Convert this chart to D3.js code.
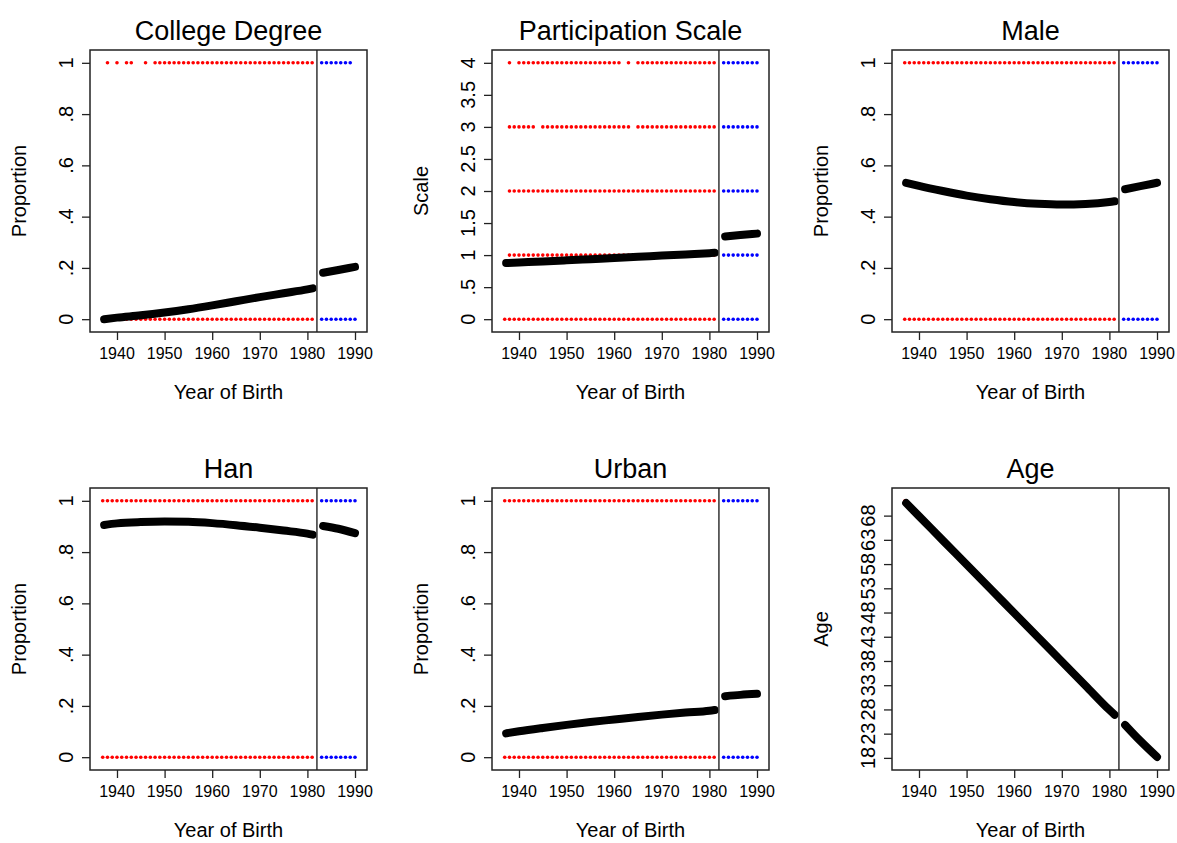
<!DOCTYPE html>
<html><head><meta charset="utf-8">
<script src="https://cdn.jsdelivr.net/npm/d3@7"></script>
<style>
body{margin:0;background:#fff}
text{font-family:"Liberation Sans",Arial,Helvetica,sans-serif;fill:#000}
</style>
</head><body>
<svg id="c" width="1177" height="843"></svg>
<script>
// ---------- data ----------
const redYears = [1937,1938,1939,1940,1941,1942,1943,1944,1945,1946,1947,1948,1949,1950,1951,1952,1953,1954,1955,1956,1957,1958,1959,1960,1961,1962,1963,1964,1965,1966,1967,1968,1969,1970,1971,1972,1973,1974,1975,1976,1977,1978,1979,1980,1981];
const redYears1938 = [1938,1939,1940,1941,1942,1943,1944,1945,1946,1947,1948,1949,1950,1951,1952,1953,1954,1955,1956,1957,1958,1959,1960,1961,1962,1963,1964,1965,1966,1967,1968,1969,1970,1971,1972,1973,1974,1975,1976,1977,1978,1979,1980,1981];
const blueYears = [1983,1984,1985,1986,1987,1988,1989,1990];
const blueYearsCollegeTop = [1983,1984,1985,1986,1987,1988,1989];
const collegeTopYears = [1938,1940,1942,1943,1946,1948,1949,1950,1951,1952,1953,1954,1955,1956,1957,1958,1959,1960,1961,1962,1963,1964,1965,1966,1967,1968,1969,1970,1971,1972,1973,1974,1975,1976,1977,1978,1979,1980,1981];
const partTopYears = [1938,1940,1941,1942,1943,1944,1945,1946,1947,1948,1949,1950,1951,1952,1953,1954,1955,1956,1957,1958,1959,1960,1961,1963,1965,1966,1967,1968,1969,1970,1971,1972,1973,1974,1975,1976,1977,1978,1979,1980,1981];
const partThreeYears = [1938,1939,1940,1941,1942,1943,1945,1946,1947,1948,1949,1950,1951,1952,1953,1954,1955,1956,1957,1958,1959,1960,1961,1962,1963,1965,1966,1967,1968,1969,1970,1971,1972,1973,1974,1975,1976,1977,1978,1979,1980,1981];
const redAges = [71,70,69,68,67,66,65,64,63,62,61,60,59,58,57,56,55,54,53,52,51,50,49,48,47,46,45,44,43,42,41,40,39,38,37,36,35,34,33,32,31,30,29,28,27];
const blueAges = [25,24,23,22,21,20,19,18];

const fitYearsLeft  = [1937.3,1940,1945,1950,1955,1960,1965,1970,1975,1980,1981.1];
const fitYearsRight = [1983.3,1986.5,1990];
const collegeFitLeft  = [0.0,0.006,0.015,0.026,0.039,0.054,0.070,0.086,0.101,0.116,0.120];
const collegeFitRight = [0.181,0.192,0.204];
const partFitLeft  = [0.875,0.884,0.901,0.918,0.936,0.954,0.973,0.992,1.011,1.030,1.035];
const partFitRight = [1.290,1.312,1.335];
const maleFitLeft  = [0.532,0.520,0.500,0.482,0.468,0.457,0.450,0.447,0.449,0.457,0.460];
const maleFitRight = [0.507,0.519,0.532];
const hanFitLeft  = [0.906,0.912,0.917,0.919,0.918,0.913,0.905,0.895,0.884,0.872,0.868];
const hanFitRight = [0.902,0.891,0.874];
const urbanFitLeft  = [0.093,0.101,0.114,0.126,0.137,0.147,0.157,0.166,0.174,0.181,0.184];
const urbanFitRight = [0.238,0.243,0.247];
const ageFitLeft  = [70.6,67.9,62.9,57.9,52.9,47.9,42.9,37.9,32.9,27.9,26.9];
const ageFitRight = [24.8,21.5,18.2];

const xTicks = [1940,1950,1960,1970,1980,1990];
const propTicks = [0,0.2,0.4,0.6,0.8,1];
const propLabels = ["0",".2",".4",".6",".8","1"];
const scaleTicks = [0,0.5,1,1.5,2,2.5,3,3.5,4];
const scaleLabels = ["0",".5","1","1.5","2","2.5","3","3.5","4"];
const ageTicks = [18,23,28,33,38,43,48,53,58,63,68];
const ageLabels = ["18","23","28","33","38","43","48","53","58","63","68"];
const cutoffYear = 1982;

const titles = ["College Degree","Participation Scale","Male","Han","Urban","Age"];
const yTitles = ["Proportion","Scale","Proportion","Proportion","Proportion","Age"];

// ---------- helpers to build point lists ----------
const rowPts = (years, v) => years.map(y => [y, v]);
const zipPts = (years, vals) => years.map((y, i) => [y, vals[i]]);

const panels = [
  {red: [...rowPts(redYears,0), ...rowPts(collegeTopYears,1)],
   blue: [...rowPts(blueYears,0), ...rowPts(blueYearsCollegeTop,1)],
   fitL: collegeFitLeft, fitR: collegeFitRight,
   yDom: [-0.05,1.05], ticks: propTicks, labels: propLabels},
  {red: [...rowPts(redYears,0), ...rowPts(redYears1938,1), ...rowPts(redYears1938,2), ...rowPts(partThreeYears,3), ...rowPts(partTopYears,4)],
   blue: [0,1,2,3,4].flatMap(v => rowPts(blueYears, v)),
   fitL: partFitLeft, fitR: partFitRight,
   yDom: [-0.2,4.2], ticks: scaleTicks, labels: scaleLabels},
  {red: [...rowPts(redYears,0), ...rowPts(redYears,1)],
   blue: [...rowPts(blueYears,0), ...rowPts(blueYears,1)],
   fitL: maleFitLeft, fitR: maleFitRight,
   yDom: [-0.05,1.05], ticks: propTicks, labels: propLabels},
  {red: [...rowPts(redYears,0), ...rowPts(redYears,1)],
   blue: [...rowPts(blueYears,0), ...rowPts(blueYears,1)],
   fitL: hanFitLeft, fitR: hanFitRight,
   yDom: [-0.05,1.05], ticks: propTicks, labels: propLabels},
  {red: [...rowPts(redYears,0), ...rowPts(redYears,1)],
   blue: [...rowPts(blueYears,0), ...rowPts(blueYears,1)],
   fitL: urbanFitLeft, fitR: urbanFitRight,
   yDom: [-0.05,1.05], ticks: propTicks, labels: propLabels},
  {red: zipPts(redYears, redAges),
   blue: zipPts(blueYears, blueAges),
   fitL: ageFitLeft, fitR: ageFitRight,
   yDom: [15.5,73.7], ticks: ageTicks, labels: ageLabels}
];

// ---------- layout ----------
const colLeft = [90, 492, 892];
const rowTop = [50, 488];
const W = 277, H = 282;
const svg = d3.select("#c");

panels.forEach((p, i) => {
  const L = colLeft[i % 3], T = rowTop[Math.floor(i / 3)];
  const g = svg.append("g");
  const x = d3.scaleLinear().domain([1934.33, 1992.52]).range([L, L + W]);
  const y = d3.scaleLinear().domain(p.yDom).range([T + H, T]);

  // points
  g.selectAll("circle.r").data(p.red).join("circle")
    .attr("cx", d => x(d[0])).attr("cy", d => y(d[1])).attr("r", 1.8).attr("fill", "#ff0000");
  g.selectAll("circle.b").data(p.blue).join("circle")
    .attr("cx", d => x(d[0])).attr("cy", d => y(d[1])).attr("r", 1.8).attr("fill", "#0000ff");

  // fitted curves
  const line = d3.line().x(d => x(d[0])).y(d => y(d[1])).curve(d3.curveMonotoneX);
  [zipPts(fitYearsLeft, p.fitL), zipPts(fitYearsRight, p.fitR)].forEach(seg => {
    g.append("path").attr("d", line(seg)).attr("fill", "none").attr("stroke", "#000")
      .attr("stroke-width", 8).attr("stroke-linecap", "round").attr("stroke-linejoin", "round");
  });

  // cutoff line
  g.append("line").attr("x1", x(cutoffYear)).attr("x2", x(cutoffYear))
    .attr("y1", T).attr("y2", T + H).attr("stroke", "#333").attr("stroke-width", 1.5);

  // box
  g.append("rect").attr("x", L).attr("y", T).attr("width", W).attr("height", H)
    .attr("fill", "none").attr("stroke", "#222").attr("stroke-width", 1.5);

  // x axis
  const xa = g.append("g").attr("transform", `translate(0,${T + H})`)
    .call(d3.axisBottom(x).tickValues(xTicks).tickFormat(d3.format("d")).tickSize(8).tickPadding(4));
  xa.select(".domain").remove();
  xa.selectAll("line").attr("stroke", "#222").attr("stroke-width", 1.3);
  xa.selectAll("text").remove();
  g.selectAll("text.xt").data(xTicks).join("text")
    .attr("x", d => x(d)).attr("y", T + H + 27).attr("text-anchor", "middle")
    .attr("font-size", 16).text(d => d);

  // y axis
  const ya = g.append("g").attr("transform", `translate(${L},0)`)
    .call(d3.axisLeft(y).tickValues(p.ticks).tickSize(8));
  ya.select(".domain").remove();
  ya.selectAll("line").attr("stroke", "#222").attr("stroke-width", 1.3);
  ya.selectAll("text").remove();
  g.selectAll("text.yt").data(p.ticks).join("text")
    .attr("transform", (d) => `translate(${L - 17},${y(d)}) rotate(-90)`)
    .attr("text-anchor", "middle").attr("font-size", 20)
    .text((d, j) => p.labels[j]);

  // titles
  g.append("text").attr("x", L + W / 2).attr("y", T - 10).attr("text-anchor", "middle")
    .attr("font-size", 27).text(titles[i]);
  g.append("text").attr("x", L + W / 2).attr("y", T + H + 67).attr("text-anchor", "middle")
    .attr("font-size", 20).text("Year of Birth");
  g.append("text").attr("transform", `translate(${L - 64},${T + H / 2}) rotate(-90)`)
    .attr("text-anchor", "middle").attr("font-size", 20).text(yTitles[i]);
});
</script>
</body></html>
